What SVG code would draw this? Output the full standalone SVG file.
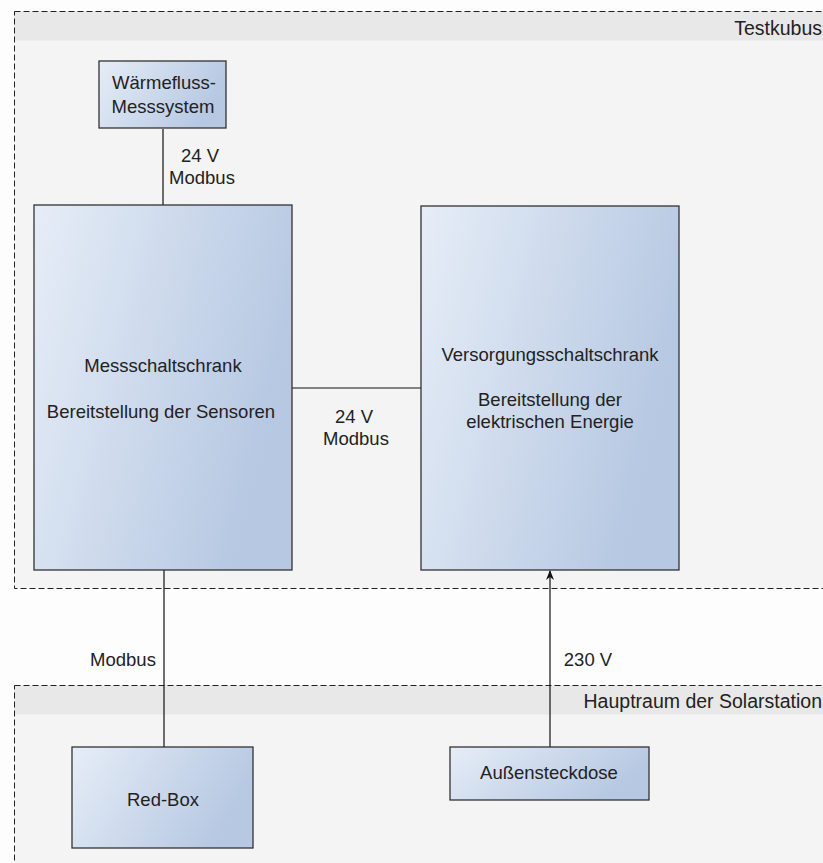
<svg xmlns="http://www.w3.org/2000/svg" width="823" height="863" viewBox="0 0 823 863">
  <style>
    .lane { fill: #f4f4f4; stroke: none; }
    .lanehead { fill: #e8e8e8; stroke: none; }
    .laneborder { fill: none; stroke: #222; stroke-width: 1; stroke-dasharray: 6 3; }
    .box { fill: url(#boxfill); stroke: #333; stroke-width: 1.3; }
    .t { font-family: "Liberation Sans", Arial, sans-serif; font-size: 18.5px; fill: #222; }
    .title { font-size: 19.5px; }
    .c { text-anchor: middle; }
    .r { text-anchor: end; }
    .wire { fill: none; stroke: #111; stroke-width: 1.2; }
  </style>
  <defs>
    <linearGradient id="boxfill" x1="0" y1="0" x2="1" y2="0.35">
      <stop offset="0" stop-color="#e6edf7"/>
      <stop offset="1" stop-color="#b6c8e2"/>
    </linearGradient>
    <marker id="arrow" viewBox="0 0 10 10" refX="9" refY="5" markerWidth="10" markerHeight="10" markerUnits="userSpaceOnUse" orient="auto">
      <path d="M0,1 L10,5 L0,9 L3,5 Z" fill="#111"/>
    </marker>
  </defs>

  <rect x="0" y="0" width="823" height="863" fill="#fdfdfd"/>

  <!-- Testkubus swimlane -->
  <g id="lane-testkubus">
    <rect class="lane" x="14.5" y="11.5" width="820" height="577"/>
    <rect class="lanehead" x="14.5" y="11.5" width="820" height="29"/>
    <rect class="laneborder" x="14.5" y="11.5" width="820" height="577"/>
    <text class="t title r" x="822" y="35">Testkubus</text>
  </g>

  <!-- Hauptraum swimlane -->
  <g id="lane-hauptraum">
    <rect class="lane" x="14.5" y="685.5" width="820" height="190"/>
    <rect class="lanehead" x="14.5" y="685.5" width="820" height="29"/>
    <rect class="laneborder" x="14.5" y="685.5" width="820" height="190"/>
    <text class="t title r" x="822" y="708">Hauptraum der Solarstation</text>
  </g>

  <!-- connectors -->
  <g id="connectors">
    <line class="wire" x1="163" y1="129" x2="163" y2="205"/>
    <line class="wire" x1="292" y1="388" x2="421" y2="388"/>
    <line class="wire" x1="164" y1="570" x2="164" y2="747"/>
    <line class="wire" x1="550" y1="747" x2="550" y2="571" marker-end="url(#arrow)"/>
    <text class="t c" x="200" y="162">24 V</text>
    <text class="t c" x="202" y="184">Modbus</text>
    <text class="t c" x="354" y="423">24 V</text>
    <text class="t c" x="356" y="445">Modbus</text>
    <text class="t c" x="123" y="666">Modbus</text>
    <text class="t c" x="588" y="666">230 V</text>
  </g>

  <g id="waermefluss">
    <rect class="box" x="99" y="61" width="127" height="67"/>
    <text class="t c" x="164" y="89">Wärmefluss-</text>
    <text class="t c" x="163" y="113">Messsystem</text>
  </g>

  <g id="messschaltschrank">
    <rect class="box" x="34" y="205" width="258" height="365"/>
    <text class="t c" x="163" y="372">Messschaltschrank</text>
    <text class="t c" x="161" y="418">Bereitstellung der Sensoren</text>
  </g>

  <g id="versorgungsschaltschrank">
    <rect class="box" x="421" y="206" width="258" height="364"/>
    <text class="t c" x="550" y="361">Versorgungsschaltschrank</text>
    <text class="t c" x="550" y="406">Bereitstellung der</text>
    <text class="t c" x="550" y="428">elektrischen Energie</text>
  </g>

  <g id="redbox">
    <rect class="box" x="72" y="747" width="181" height="101"/>
    <text class="t c" x="163" y="806">Red-Box</text>
  </g>

  <g id="aussensteckdose">
    <rect class="box" x="450" y="747" width="199" height="53"/>
    <text class="t c" x="549" y="779">Außensteckdose</text>
  </g>
</svg>
